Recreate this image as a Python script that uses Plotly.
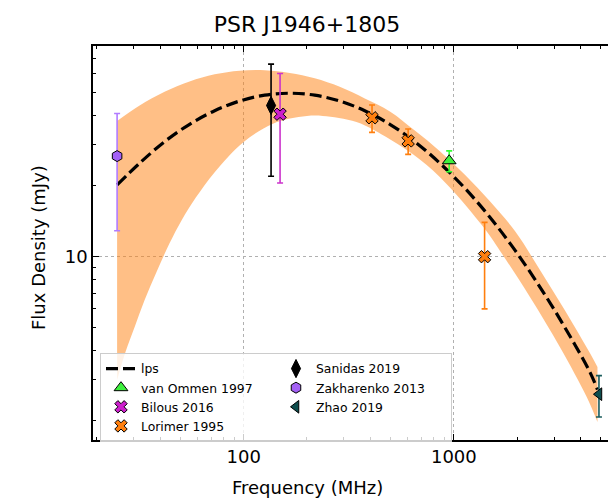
import plotly.graph_objects as go

# ---- data ----
fit_freq = [25, 32.0, 42.05, 55.3, 72.8, 95.7, 125.9, 165.6, 217.8, 286.5, 376.9, 496, 652,
            857.6, 1128.5, 1484, 1952, 2568, 3378, 4444, 4820]
fit_flux = [20.2, 25.0, 30.86, 36.6, 41.8, 45.96, 48.67, 49.6, 48.67, 45.96, 41.8, 36.6, 30.86,
            25.0, 19.56, 14.72, 10.66, 7.43, 4.99, 3.22, 2.72]

band_hi_freq = [25, 32.0, 42.05, 55.3, 72.8, 95.7, 125.9, 165.6, 217.8, 286.5, 376.9, 496, 652,
                857.6, 1128.5, 1484, 1952, 2568, 3378, 4444, 4820]
band_hi_flux = [37.8, 44.0, 50.3, 55.7, 59.7, 61.9, 62.2, 60.5, 57.4, 52.8, 47.1, 41.5, 34.4,
                28.1, 22.3, 17.2, 12.86, 8.78, 5.90, 3.88, 3.39]

band_lo_freq = [25, 27.4, 30.3, 33.8, 38.5, 44.4, 50.7, 59.1, 72.8, 100, 137, 166, 200, 238,
                344, 496, 689, 923, 1379, 1656, 2301, 3198, 4286, 4820]
band_lo_flux = [2.99, 3.93, 5.02, 6.54, 8.61, 11.4, 14.3, 17.8, 22.9, 30.8, 36.7, 38.7, 39.7, 39.7,
                37.4, 31.6, 25.9, 20.4, 13.4, 10.6, 6.74, 4.12, 2.53, 1.98]

vanommen_freq = [950]
vanommen_flux = [25.6]
vanommen_err = [2.6]

bilous_freq = [149]
bilous_flux = [40.4]
bilous_err = [19.8]

lorimer_freq = [408, 606, 1400]
lorimer_flux = [39.0, 31.1, 10.0]
lorimer_err = [5.2, 3.85, 4.0]

sanidas_freq = [135]
sanidas_flux = [44.0]
sanidas_err = [22.0]

zakharenko_freq = [25]
zakharenko_flux = [26.8]
zakharenko_err = [13.9]

zhao_freq = [4900]
zhao_flux = [2.6]
zhao_err = [0.52]

x_major = [100, 1000]
x_major_text = ["100", "1000"]
x_minor = [20, 30, 40, 50, 60, 70, 80, 90, 200, 300, 400, 500, 600, 700, 800, 900,
           2000, 3000, 4000, 5000]
y_major = [10]
y_major_text = ["10"]
y_minor = [2, 3, 4, 5, 6, 7, 8, 9, 20, 30, 40, 50, 60, 70]

FONT = "DejaVu Sans"
BAND = "rgba(255,127,14,0.5)"

fig = go.Figure()

fig.add_trace(go.Scatter(x=band_hi_freq, y=band_hi_flux, mode="lines",
                         line=dict(width=0, shape="spline", color=BAND),
                         showlegend=False, hoverinfo="skip"))
fig.add_trace(go.Scatter(x=band_lo_freq, y=band_lo_flux, mode="lines",
                         line=dict(width=0, shape="spline", color=BAND),
                         fill="tonexty", fillcolor=BAND,
                         showlegend=False, hoverinfo="skip"))

fig.add_trace(go.Scatter(x=fit_freq, y=fit_flux, mode="lines", name="lps",
                         line=dict(color="black", width=3.2, dash="12px,5px", shape="spline"),
                         legendrank=1))


def pts(name, fx, fy, ferr, symbol, fill, ecol, size, rank):
    fig.add_trace(go.Scatter(
        x=fx, y=fy, mode="markers", name=name,
        marker=dict(symbol=symbol, size=size, color=fill,
                    line=dict(color="black", width=1)),
        error_y=dict(type="data", array=ferr, visible=True, color=ecol,
                     thickness=1.6, width=3),
        legendrank=rank))


pts("Sanidas 2019", sanidas_freq, sanidas_flux, sanidas_err, "diamond-tall", "black", "black", 13, 2)
pts("van Ommen 1997", vanommen_freq, vanommen_flux, vanommen_err, "triangle-up", "#3df03d", "#33ff33", 12, 3)
pts("Zakharenko 2013", zakharenko_freq, zakharenko_flux, zakharenko_err, "hexagon", "#a461f5", "#b27cff", 11, 4)
pts("Bilous 2016", bilous_freq, bilous_flux, bilous_err, "x", "#cc1fcc", "#cc33cc", 11, 5)
pts("Zhao 2019", zhao_freq, zhao_flux, zhao_err, "triangle-left", "#0e4d4d", "#1a5c5c", 11, 6)
pts("Lorimer 1995", lorimer_freq, lorimer_flux, lorimer_err, "x", "#ff7f0e", "#ff7f0e", 11, 7)

L, R, T, B = 93, 0, 46, 58
W, H = 608, 498
pw, ph = W - L - R, H - T - B

axis_common = dict(
    type="log", ticks="inside", ticklen=6, tickwidth=1.3, tickcolor="black",
    showline=True, linecolor="black", linewidth=1.5,
    showgrid=True, gridcolor="#b0b0b0", griddash="dot", gridwidth=1,
    zeroline=False, tickfont=dict(family=FONT, size=18, color="black"),
)

fig.update_layout(
    width=W, height=H,
    margin=dict(l=L, r=R, t=T, b=B),
    paper_bgcolor="white", plot_bgcolor="white",
    font=dict(family=FONT, color="black"),
    title=dict(text="PSR J1946+1805", font=dict(family=FONT, size=22, color="black"),
               x=307 / W, xref="container", xanchor="center",
               y=1 - 24 / H, yref="container", yanchor="middle"),
    xaxis=dict(axis_common, range=[1.2833, 3.7332], tickmode="array",
               tickvals=x_major, ticktext=x_major_text, mirror="ticks",
               minor=dict(tickmode="array", tickvals=x_minor, ticks="inside",
                          ticklen=3.5, tickwidth=1, tickcolor="black", showgrid=False)),
    yaxis=dict(axis_common, range=[0.2201, 1.8965], tickmode="array",
               tickvals=y_major, ticktext=y_major_text, mirror=False,
               minor=dict(tickmode="array", tickvals=y_minor, ticks="inside",
                          ticklen=3.5, tickwidth=1, tickcolor="black", showgrid=False)),
    legend=dict(orientation="h", x=(100 - L) / pw, xanchor="left",
                y=(H - B - 353) / ph, yanchor="top",
                bgcolor="rgba(255,255,255,0.8)", bordercolor="#cccccc", borderwidth=1,
                font=dict(family=FONT, size=12.4, color="black"),
                entrywidth=130, entrywidthmode="pixels", traceorder="normal"),
    annotations=[
        dict(text="Frequency (MHz)", xref="paper", yref="paper",
             x=(307.5 - L) / pw, y=(H - B - 487) / ph, xanchor="center", yanchor="middle",
             showarrow=False, font=dict(family=FONT, size=18, color="black")),
        dict(text="Flux Density (mJy)", xref="paper", yref="paper", textangle=-90,
             x=(38 - L) / pw, y=(H - B - 248) / ph, xanchor="center", yanchor="middle",
             showarrow=False, font=dict(family=FONT, size=18, color="black")),
    ],
)

fig.write_html("out.html", config={"displayModeBar": False},
               post_script="document.body.style.margin='0px';document.body.style.overflow='hidden';")
